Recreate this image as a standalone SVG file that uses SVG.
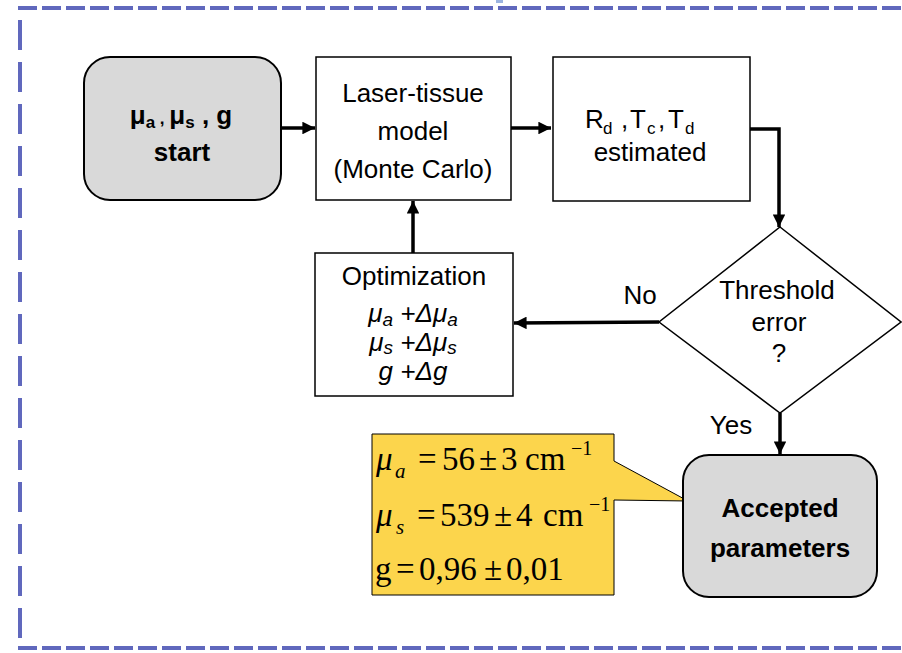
<svg xmlns="http://www.w3.org/2000/svg" width="902" height="653" viewBox="0 0 902 653">
<style>
.t{font-family:"Liberation Sans",Arial,sans-serif;font-size:26px;fill:#000;text-anchor:middle}
.s{font-family:"Liberation Sans",Arial,sans-serif;font-size:26px;fill:#000}
.b{font-weight:bold}
.i{font-style:italic}
.m{font-family:"Liberation Serif","Times New Roman",serif;font-size:33px;fill:#000}
.sb{font-size:21px;font-style:italic}
.sp{font-size:20px}
.box{fill:#fff;stroke:#000;stroke-width:1.5}
.rnd{fill:#d9d9d9;stroke:#000;stroke-width:2}
.c{fill:none;stroke:#000;stroke-width:3.5}
.brd{fill:none;stroke:#6068bd;stroke-width:4}
</style>
<defs>
<marker id="ah" viewBox="0 0 10 10" refX="10" refY="5" markerWidth="3.6" markerHeight="3.6" orient="auto" markerUnits="strokeWidth">
<path d="M0,0 L10,5 L0,10 z" fill="#000"/>
</marker>
</defs>
<g id="frame">
<line class="brd" x1="18" y1="8" x2="902" y2="8" stroke-dasharray="19 5"/>
<line class="brd" x1="18" y1="648" x2="902" y2="648" stroke-dasharray="19 5"/>
<line class="brd" x1="20" y1="6" x2="20" y2="650" stroke-dasharray="30 12" stroke-dashoffset="-14"/>
<rect x="496" y="0" width="7" height="3" fill="#9bb3e0"/>
</g>
<g id="connectors">
<line class="c" x1="282" y1="128" x2="315" y2="128" marker-end="url(#ah)"/>
<line class="c" x1="511" y1="128" x2="551" y2="128" marker-end="url(#ah)"/>
<polyline class="c" points="750,129 779,129 779,227" marker-end="url(#ah)"/>
<line class="c" x1="659" y1="322" x2="514" y2="323" marker-end="url(#ah)"/>
<line class="c" x1="780" y1="413" x2="780" y2="454" marker-end="url(#ah)"/>
<line class="c" x1="413" y1="253" x2="413" y2="201" marker-end="url(#ah)"/>
<text class="t" x="640" y="304">No</text>
<text class="t" x="731" y="434">Yes</text>
</g>
<g id="start">
<rect class="rnd" x="84" y="57" width="197" height="143" rx="26"/>
<text class="t b" x="181" y="124">μ<tspan font-size="17" dy="4">a</tspan><tspan font-size="17" dy="-4"> , </tspan>μ<tspan font-size="17" dy="4">s</tspan><tspan dy="-4"> , g</tspan></text>
<text class="t b" x="182" y="161">start</text>
</g>
<g id="laser">
<rect class="box" x="316" y="57" width="195" height="143"/>
<text class="t" x="413" y="102">Laser-tissue</text>
<text class="t" x="413" y="140">model</text>
<text class="t" x="413" y="178">(Monte Carlo)</text>
</g>
<g id="estimated">
<rect class="box" x="553" y="57" width="197" height="144"/>
<text class="s"><tspan x="585" y="128">R</tspan><tspan x="603" y="134" font-size="17">d</tspan><tspan x="621" y="128">,</tspan><tspan x="630" y="128">T</tspan><tspan x="647" y="134" font-size="17">c</tspan><tspan x="658" y="128">,</tspan><tspan x="668" y="128">T</tspan><tspan x="685" y="134" font-size="17">d</tspan></text>
<text class="t" x="650" y="161">estimated</text>
</g>
<g id="threshold">
<polygon points="780,227 901,322 780,413 659,322" fill="#fff" stroke="#000" stroke-width="1.5"/>
<text class="t" x="777" y="299">Threshold</text>
<text class="t" x="779" y="331">error</text>
<text class="t" x="779" y="362">?</text>
</g>
<g id="optimization">
<rect class="box" x="315" y="253" width="198" height="143"/>
<text class="t" x="414" y="285">Optimization</text>
<text class="t i" x="413" y="322">μ<tspan font-size="19" dy="4">a</tspan><tspan dy="-4"> +Δμ</tspan><tspan font-size="19" dy="4">a</tspan></text>
<text class="t i" x="413" y="351">μ<tspan font-size="19" dy="3">s</tspan><tspan dy="-3"> +Δμ</tspan><tspan font-size="19" dy="3">s</tspan></text>
<text class="t i" x="413" y="380">g +Δg</text>
</g>
<g id="callout">
<path d="M372,434 H614 V461 L688,501 L614,500 V595 H372 Z" fill="#fcd54c" stroke="#000" stroke-width="1"/>
<text class="m"><tspan x="376" y="470" font-style="italic">μ</tspan><tspan class="sb" x="395" y="478">a</tspan><tspan x="418" y="470">=</tspan><tspan x="442" y="470">56</tspan><tspan x="479" y="470">±</tspan><tspan x="501" y="470">3</tspan><tspan x="525" y="470">cm</tspan><tspan class="sp" x="571" y="455">−1</tspan></text>
<text class="m"><tspan x="376" y="526" font-style="italic">μ</tspan><tspan class="sb" x="396" y="534">s</tspan><tspan x="417" y="526">=</tspan><tspan x="440" y="526">539</tspan><tspan x="494" y="526">±</tspan><tspan x="516" y="526">4</tspan><tspan x="543" y="526">cm</tspan><tspan class="sp" x="589" y="511">−1</tspan></text>
<text class="m"><tspan x="375" y="580">g</tspan><tspan x="396" y="580">=</tspan><tspan x="419" y="580">0,96</tspan><tspan x="484" y="580">±</tspan><tspan x="506" y="580">0,01</tspan></text>
</g>
<g id="accepted">
<rect class="rnd" x="683" y="455" width="194" height="142" rx="26"/>
<text class="t b" x="780" y="517">Accepted</text>
<text class="t b" x="780" y="557">parameters</text>
</g>
</svg>
